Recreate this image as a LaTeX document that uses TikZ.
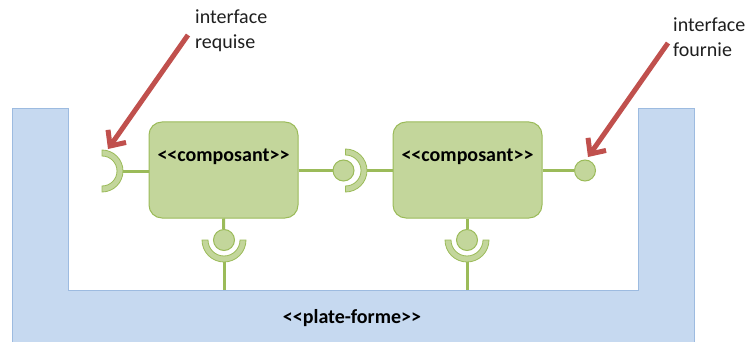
\documentclass[tikz,border=0pt]{standalone}
\usepackage{fontspec}
\setmainfont{Carlito}[Ligatures=NoCommon]
\usetikzlibrary{arrows.meta}
\definecolor{plat}{HTML}{C6D9F0}
\definecolor{platb}{HTML}{9DBBE0}
\definecolor{gfill}{HTML}{C3D69B}
\definecolor{gline}{HTML}{9BBB59}
\definecolor{redarr}{HTML}{C0504D}
\definecolor{txt}{HTML}{1F1F1F}
\newcommand{\lt}{\char`\<}
\newcommand{\gt}{\char`\>}
\tikzset{
  comp/.style={draw=gline,line width=1pt,fill=gfill,rounded corners=13pt,minimum width=149pt,minimum height=96pt,inner sep=0pt},
  ctext/.style={font=\fontsize{20}{24}\selectfont\bfseries,text=black,inner sep=0pt},
  ball/.style={circle,draw=gline,line width=1pt,fill=gfill,minimum size=21pt,inner sep=0pt},
  wire/.style={draw=gline,line width=3pt},
  sock/.style={draw=gline,line width=0.8pt,fill=gfill},
  note/.style={font=\fontsize{20}{25}\selectfont,text=txt,align=left,anchor=north west,inner sep=0pt},
  callout/.style={draw=redarr,line width=5pt,-{Straight Barb[length=12pt,width=22pt,line width=5pt]}},
}
\begin{document}
\begin{tikzpicture}[x=1pt,y=-1pt]
\useasboundingbox (0,0) rectangle (749,342);
% platform
\draw[fill=plat,draw=platb,line width=1pt] (12,109) -- (68,109) -- (68,290) -- (638,290) -- (638,109) -- (694,109) -- (694,350) -- (12,350) -- cycle;
\node[ctext] (plat) at (352,318) {\lt{}\lt{}plate-forme\gt{}\gt};
\coordinate (p1) at (224,290);
\coordinate (p2) at (467,290);
% components
\node[comp] (c1) at (223.5,170) {};
\node[ctext] (t1) at (223.5,157) {\lt{}\lt{}composant\gt{}\gt};
\node[comp] (c2) at (467.5,170) {};
\node[ctext] (t2) at (467.5,157) {\lt{}\lt{}composant\gt{}\gt};
% left required interface
\coordinate (s0) at (102,171);
\path[sock] (s0) ++(-90:21) arc[start angle=-90,end angle=90,radius=21] -- ++(90:-6) arc[start angle=90,end angle=-90,radius=15] -- cycle;
\coordinate (s0e) at (123,171);
\draw[wire] (s0e) -- (c1.west |- s0e);
% middle
\node[ball] (b1) at (343.5,170.5) {};
\coordinate (s1) at (345.5,170.5);
\path[sock] (s1) ++(-90:21.5) arc[start angle=-90,end angle=90,radius=21.5] -- ++(90:-6) arc[start angle=90,end angle=-90,radius=15.5] -- cycle;
\coordinate (s1e) at (367,170.5);
\draw[wire] (c1.east |- b1) -- (b1);
\draw[wire] (s1e) -- (c2.west |- s1e);
% right provided interface
\node[ball] (b2) at (585,170.5) {};
\draw[wire] (c2.east |- b2) -- (b2);
% bottom interfaces
\node[ball] (b3) at (224,240) {};
\coordinate (s3) at (224,240);
\path[sock] (s3) ++(0:22) arc[start angle=0,end angle=180,radius=22] -- ++(6,0) arc[start angle=180,end angle=0,radius=16] -- cycle;
\draw[wire] (c1.south) -- (b3);
\draw[wire] (224,262) -- (p1);
\node[ball] (b4) at (467,240) {};
\coordinate (s4) at (467,240);
\path[sock] (s4) ++(0:22) arc[start angle=0,end angle=180,radius=22] -- ++(6,0) arc[start angle=180,end angle=0,radius=16] -- cycle;
\draw[wire] (c2.south -| b4) -- (b4);
\draw[wire] (467,262) -- (p2);
% notes
\node[note] (n1) at (195,10) {interface\\requise};
\node[note] (n2) at (673,18) {interface\\fournie};
\coordinate (a1) at (188,35);
\coordinate (a1e) at (108,149);
\coordinate (a2) at (668,43);
\coordinate (a2e) at (588,157);
\draw[callout] (a1) -- (a1e);
\draw[callout] (a2) -- (a2e);
\end{tikzpicture}
\end{document}
